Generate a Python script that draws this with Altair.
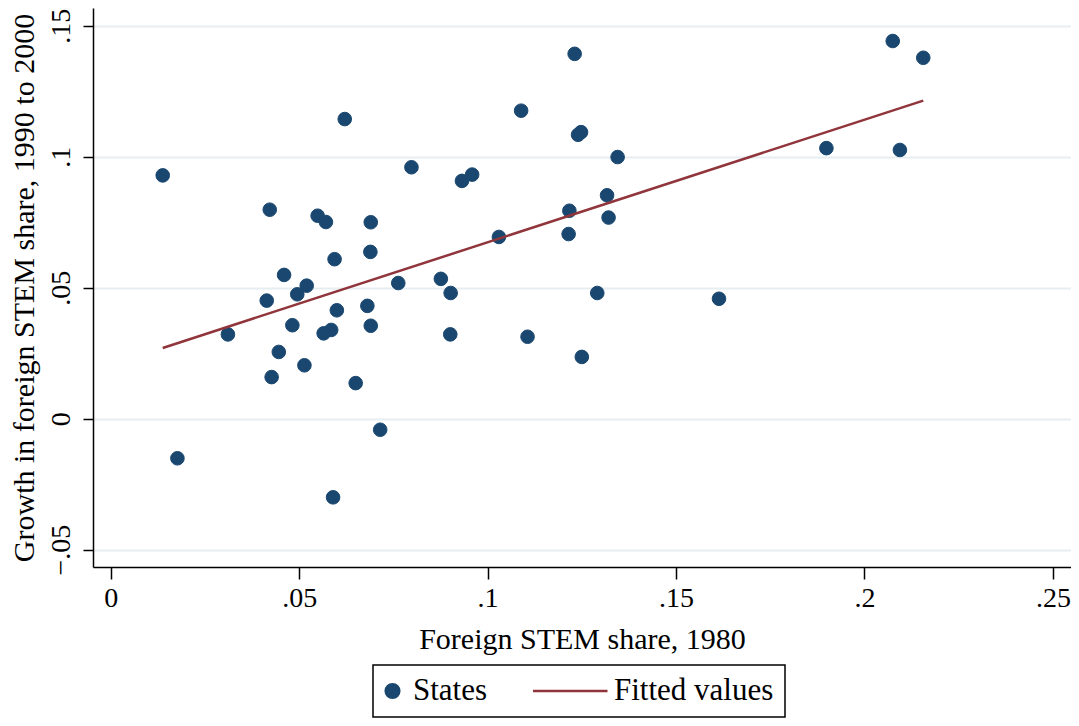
import altair as alt
import pandas as pd

# Foreign STEM share 1980 (x) and growth 1990-2000 (y), one per state
x_share = [0.0138, 0.0177, 0.0311, 0.0414, 0.0422, 0.0427, 0.0446, 0.0460, 0.0482, 0.0495,
           0.0514, 0.0520, 0.0549, 0.0565, 0.0571, 0.0585, 0.0590, 0.0594, 0.0600, 0.0621,
           0.0650, 0.0681, 0.0689, 0.0690, 0.0690, 0.0715, 0.0763, 0.0798, 0.0876, 0.0901,
           0.0902, 0.0932, 0.0959, 0.1030, 0.1089, 0.1106, 0.1215, 0.1217, 0.1231, 0.1240,
           0.1248, 0.1250, 0.1291, 0.1317, 0.1321, 0.1345, 0.1614, 0.1899, 0.2075, 0.2094,
           0.2156]
y_growth = [0.0929, -0.0151, 0.0322, 0.0451, 0.0798, 0.0159, 0.0255, 0.0549, 0.0357, 0.0475,
            0.0204, 0.0508, 0.0775, 0.0326, 0.0751, 0.0339, -0.0300, 0.0609, 0.0414, 0.1144,
            0.0136, 0.0431, 0.0637, 0.0750, 0.0355, -0.0042, 0.0518, 0.0960, 0.0534, 0.0322,
            0.0480, 0.0908, 0.0932, 0.0694, 0.1176, 0.0313, 0.0705, 0.0794, 0.1393, 0.1084,
            0.1094, 0.0236, 0.0480, 0.0853, 0.0768, 0.0999, 0.0458, 0.1033, 0.1442, 0.1026,
            0.1378]

series_names = ["States", "Fitted values"]
x_ticks = [0, 0.05, 0.1, 0.15, 0.2, 0.25]
y_ticks = [-0.05, 0, 0.05, 0.1, 0.15]
x_title = "Foreign STEM share, 1980"
y_title = "Growth in foreign STEM share, 1990 to 2000"

NAVY = "#1a476f"
MAROON = "#90353b"
GRID = "#e6eef1"
FONT = "Liberation Serif"

df = pd.DataFrame({"share": x_share, "growth": y_growth, "series": "States"})

label_expr = "replace(format(datum.value, '.2~f'), '0.', '.')"

xscale = alt.Scale(domain=[-0.0047, 0.2548], nice=False, zero=False)
yscale = alt.Scale(domain=[-0.0566, 0.1568], nice=False, zero=False)

x_axis = alt.Axis(values=x_ticks, labelExpr=label_expr, grid=False, tickSize=12,
                  tickWidth=1.5, tickColor="black", domainColor="black", domainWidth=1.5,
                  labelFont=FONT, labelFontSize=28, labelColor="black",
                  labelBaseline="alphabetic", labelPadding=27, labelFlush=False,
                  labelOverlap=False, title=x_title, titleFont=FONT, titleFontSize=30,
                  titleFontWeight="normal", titleColor="black",
                  titleBaseline="alphabetic", titleY=81)
y_axis = alt.Axis(values=y_ticks, labelExpr=label_expr, grid=True, gridColor=GRID,
                  gridWidth=2, tickSize=10, tickWidth=1.5, tickColor="black",
                  domainColor="black", domainWidth=1.5, labelFont=FONT, labelFontSize=28,
                  labelColor="black", labelAngle=270, labelAlign="center",
                  labelBaseline="alphabetic", labelPadding=14, labelFlush=False,
                  labelOverlap=False, title=y_title, titleFont=FONT, titleFontSize=30,
                  titleFontWeight="normal", titleColor="black", titleAngle=270,
                  titleBaseline="alphabetic", titleAlign="center", titleX=-60, titleY=279.5)

base = alt.Chart(df)

points = base.mark_point(filled=True, opacity=1, strokeWidth=1).encode(
    x=alt.X("share:Q", scale=xscale, axis=x_axis),
    y=alt.Y("growth:Q", scale=yscale, axis=y_axis),
    color=alt.Color("series:N", scale=alt.Scale(domain=series_names, range=[NAVY, MAROON]),
                    legend=alt.Legend(title=None)),
    stroke=alt.Stroke("series:N", scale=alt.Scale(domain=series_names, range=[NAVY, MAROON]),
                      legend=alt.Legend(title=None)),
    shape=alt.Shape("series:N", scale=alt.Scale(domain=series_names, range=["circle", "stroke"]),
                    legend=alt.Legend(title=None)),
    size=alt.Size("series:N", scale=alt.Scale(domain=series_names, range=[185, 6400]),
                  legend=alt.Legend(title=None)),
)

fit = base.transform_regression("share", "growth").mark_line(
    color=MAROON, strokeWidth=2.5
).encode(
    x=alt.X("share:Q", scale=xscale),
    y=alt.Y("growth:Q", scale=yscale),
)

chart = alt.layer(points, fit).properties(
    width=978, height=559,
    padding={"left": 85, "top": 0, "right": 0, "bottom": 151},
    autosize=alt.AutoSizeParams(type="none"),
    background="white",
).configure_view(strokeWidth=0).configure_legend(
    orient="none", legendX=280, legendY=657, direction="horizontal",
    clipHeight=30, padding=11, columnPadding=45, labelOffset=5, symbolOffset=-7,
    strokeColor="black", strokeWidth=1.5, labelFont=FONT, labelFontSize=31,
    labelColor="black", symbolStrokeWidth=2.5, labelLimit=0,
)

chart.save("out.html", embed_options={"renderer": "svg", "actions": False})
